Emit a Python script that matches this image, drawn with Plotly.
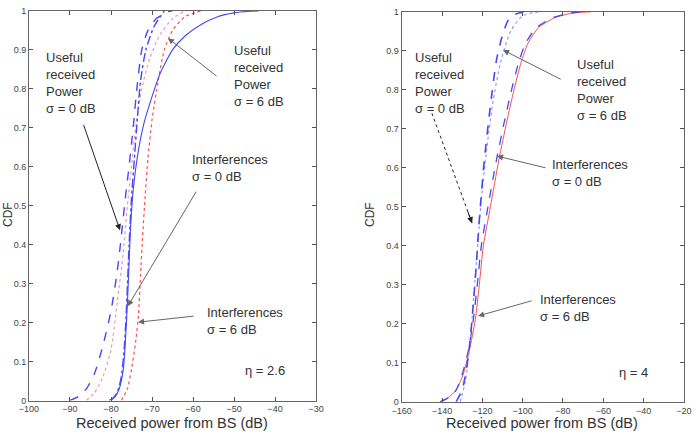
import plotly.graph_objects as go

# ---------------- data ----------------
# Left panel (eta = 2.6)
L_use0_x = [-90, -88, -86, -84, -82, -80, -78.5, -77.5, -76.5, -75.5, -74.6, -73.7, -72.5, -71, -69, -66, -65]
L_use0_y = [0, 0.01, 0.03, 0.07, 0.14, 0.23, 0.33, 0.42, 0.52, 0.61, 0.70, 0.80, 0.90, 0.95, 0.98, 0.998, 1]
L_use6_x = [-80.5, -79, -78, -77, -76.5, -76, -75.6, -75.2, -74.5, -73.5, -72, -70, -68, -65, -62, -58, -54, -50, -46, -44]
L_use6_y = [0, 0.01, 0.03, 0.08, 0.15, 0.25, 0.35, 0.45, 0.55, 0.63, 0.71, 0.78, 0.84, 0.90, 0.935, 0.965, 0.985, 0.995, 0.999, 1]
L_int0_x = [-80, -78.5, -77.5, -76.8, -76.3, -75.9, -75.5, -75, -74.3, -73.6, -72.8, -71.5, -69.5, -67]
L_int0_y = [0, 0.02, 0.06, 0.13, 0.22, 0.32, 0.42, 0.52, 0.62, 0.72, 0.82, 0.90, 0.96, 1]
L_int6_x = [-77.5, -76, -75, -74, -73.3, -72.8, -72.3, -71.7, -71, -70, -68.5, -67, -65, -62, -58]
L_int6_y = [0, 0.03, 0.08, 0.15, 0.22, 0.32, 0.42, 0.52, 0.62, 0.72, 0.82, 0.90, 0.95, 0.985, 1]
L_aux_x = [-86, -84, -82, -80, -78.5, -77, -76, -75, -74, -72.5, -70.5, -68, -65, -62]
L_aux_y = [0, 0.02, 0.06, 0.13, 0.25, 0.38, 0.50, 0.60, 0.70, 0.80, 0.88, 0.94, 0.98, 1]

# Right panel (eta = 4)
R_use0_x = [-133, -130, -128, -126, -124.5, -123, -122, -121, -119, -116.2, -113, -110, -107, -103, -98]
R_use0_y = [0, 0.03, 0.08, 0.16, 0.25, 0.35, 0.43, 0.50, 0.62, 0.75, 0.876, 0.94, 0.98, 0.995, 1]
R_use6_x = [-141, -137, -133, -130, -127, -124.5, -122.5, -120.5, -117.2, -113, -109, -105.5, -102, -98.5, -93, -85, -76, -68]
R_use6_y = [0, 0.01, 0.03, 0.07, 0.13, 0.21, 0.30, 0.40, 0.50, 0.62, 0.72, 0.80, 0.87, 0.92, 0.96, 0.985, 0.997, 1]
R_int_x = [-141, -137, -133, -129.5, -126.5, -123.5, -121.5, -119.5, -116, -111.8, -107.8, -104.3, -100.8, -97.3, -92, -84, -75, -66]
R_int_y = [0, 0.01, 0.03, 0.07, 0.13, 0.21, 0.30, 0.40, 0.50, 0.62, 0.72, 0.80, 0.87, 0.92, 0.96, 0.985, 0.997, 1]
R_int0_x = [-131, -128.5, -126.5, -125, -123.5, -122, -120.5, -118, -115, -111, -106, -100, -92]
R_int0_y = [0, 0.05, 0.13, 0.22, 0.32, 0.42, 0.52, 0.64, 0.76, 0.87, 0.95, 0.99, 1]

L_xticks = [-100, -90, -80, -70, -60, -50, -40, -30]
R_xticks = [-160, -140, -120, -100, -80, -60, -40, -20]
y_ticks = [0, 0.1, 0.2, 0.3, 0.4, 0.5, 0.6, 0.7, 0.8, 0.9, 1]

BLUE = "rgb(70,70,250)"
RED = "rgb(245,80,80)"
PINK = "rgb(240,150,170)"

fig = go.Figure()

def add(x, y, color, dash, xa, ya, width=1.2):
    fig.add_trace(go.Scatter(x=x, y=y, mode="lines", xaxis=xa, yaxis=ya,
                             line=dict(color=color, dash=dash, width=width, shape="spline", smoothing=0.6),
                             showlegend=False, hoverinfo="skip"))

add(L_aux_x, L_aux_y, PINK, "dot", "x", "y")
add(L_int6_x, L_int6_y, RED, "dot", "x", "y")
add(L_use6_x, L_use6_y, BLUE, "solid", "x", "y", 1.1)
add(L_int0_x, L_int0_y, BLUE, "dashdot", "x", "y", 1.4)
add(L_use0_x, L_use0_y, BLUE, "dash", "x", "y", 1.4)

add(R_int_x, R_int_y, RED, "solid", "x2", "y2", 1.0)
add(R_use6_x, R_use6_y, BLUE, "dash", "x2", "y2", 1.3)
add(R_int0_x, R_int0_y, "rgb(150,150,255)", "dot", "x2", "y2", 1.2)
add(R_use0_x, R_use0_y, BLUE, "dash", "x2", "y2", 1.6)

axis_common = dict(showgrid=False, zeroline=False, ticks="inside", ticklen=4, tickcolor="#555",
                   showline=True, linecolor="#666", linewidth=1, mirror="ticks", automargin=False,
                   tickfont=dict(family="Arial", size=9, color="#444"))

fig.update_layout(
    width=697, height=437, margin=dict(l=0, r=0, t=0, b=0, autoexpand=False),
    paper_bgcolor="white", plot_bgcolor="white",
    xaxis=dict(domain=[0.0416, 0.4534], range=[-100, -30], tickvals=L_xticks, anchor="y", **axis_common),
    yaxis=dict(domain=[0.0835, 0.975], range=[0, 1], tickvals=y_ticks, anchor="x", **axis_common),
    xaxis2=dict(domain=[0.5763, 0.9813], range=[-160, -20], tickvals=R_xticks, anchor="y2", **axis_common),
    yaxis2=dict(domain=[0.0806, 0.973], range=[0, 1], tickvals=y_ticks, anchor="x2", **axis_common),
)

anns = []
shapes = []

def text(x, y, t, xr, yr, yanchor="top", size=13):
    anns.append(dict(x=x, y=y, xref=xr, yref=yr, text=t, showarrow=False, xanchor="left",
                     yanchor=yanchor, align="left", font=dict(family="Arial", size=size, color="#333")))

def arrow(tx, ty, sx, sy, xr, yr, color="#666", dotted=False):
    if dotted:
        shapes.append(dict(type="line", x0=sx, y0=sy, x1=tx, y1=ty, xref=xr, yref=yr,
                           line=dict(color=color, width=1, dash="dot")))
        f = 0.12
        sx, sy = tx + (sx - tx) * f, ty + (sy - ty) * f
    anns.append(dict(x=tx, y=ty, ax=sx, ay=sy, xref=xr, yref=yr, axref=xr, ayref=yr, text="",
                     showarrow=True, arrowhead=2, arrowsize=1.2, arrowwidth=1, arrowcolor=color, standoff=0))

# left panel
text(-96.3, 0.906, "Useful<br>received<br>Power<br>σ = 0 dB", "x", "y")
text(-50.5, 0.924, "Useful<br>received<br>Power<br>σ = 6 dB", "x", "y")
text(-60.7, 0.642, "Interferences<br>σ = 0 dB", "x", "y")
text(-57.1, 0.25, "Interferences<br>σ = 6 dB", "x", "y")
text(-47.8, 0.078, "η = 2.6", "x", "y", yanchor="middle")
arrow(-77.8, 0.437, -86.8, 0.711, "x", "y", "#222")
arrow(-66.1, 0.93, -53.9, 0.83, "x", "y")
arrow(-75.9, 0.242, -59.0, 0.54, "x", "y")
arrow(-73.4, 0.201, -59.5, 0.217, "x", "y")

# right panel
text(-154.4, 0.907, "Useful<br>received<br>Power<br>σ = 0 dB", "x2", "y2")
text(-74.0, 0.889, "Useful<br>received<br>Power<br>σ = 6 dB", "x2", "y2")
text(-86.4, 0.633, "Interferences<br>σ = 0 dB", "x2", "y2")
text(-92.4, 0.286, "Interferences<br>σ = 6 dB", "x2", "y2")
text(-53.2, 0.074, "η = 4", "x2", "y2", yanchor="middle")
arrow(-125.1, 0.458, -145, 0.74, "x2", "y2", "#222", dotted=True)
arrow(-109.7, 0.902, -80.4, 0.825, "x2", "y2")
arrow(-112.7, 0.63, -87.9, 0.599, "x2", "y2")
arrow(-122.1, 0.22, -94.8, 0.26, "x2", "y2")

# axis titles
for xc in [172 / 697, 542 / 697]:
    anns.append(dict(x=xc, y=(437 - 423) / 437, xref="paper", yref="paper", text="Received power from BS (dB)",
                     showarrow=False, xanchor="center", yanchor="middle",
                     font=dict(family="Arial", size=14.5, color="#333")))
for xc in [8 / 697, 370 / 697]:
    anns.append(dict(x=xc, y=(437 - 215) / 437, xref="paper", yref="paper", text="CDF", textangle=-90,
                     showarrow=False, xanchor="center", yanchor="middle",
                     font=dict(family="Arial", size=12, color="#333")))

fig.update_layout(annotations=anns, shapes=shapes)
fig.write_html("out.html")
